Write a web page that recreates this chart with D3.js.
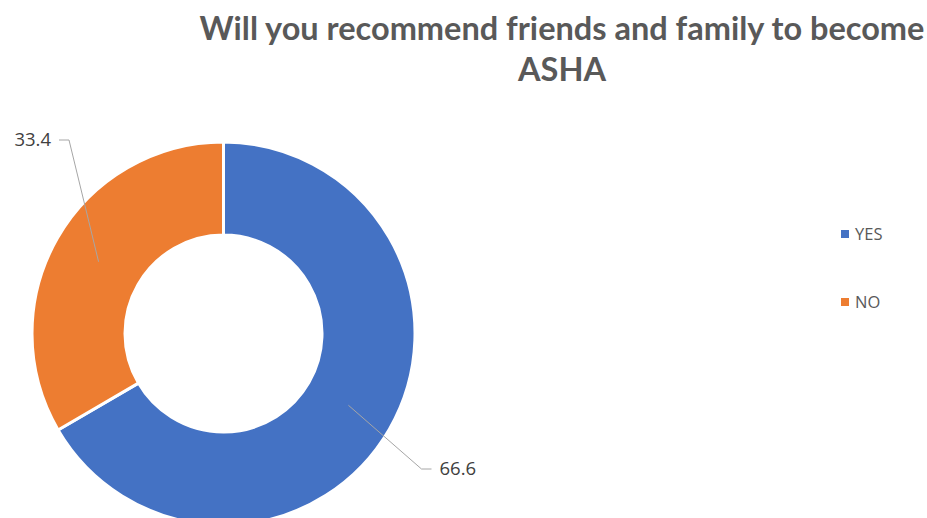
<!DOCTYPE html>
<html>
<head>
<meta charset="utf-8">
<script src="https://cdn.jsdelivr.net/npm/d3@7"></script>
<style>
  html, body { margin: 0; padding: 0; background: #fff; }
  svg { display: block; }
</style>
</head>
<body>
<svg id="chart" width="927" height="518"></svg>
<script>
// Survey answers
const categories = ["YES", "NO"];
const values = [66.6, 33.4];
const colors = ["#4472C4", "#ED7D31"];
const titleLines = ["Will you recommend friends and family to become", "ASHA"];

const svg = d3.select("#chart");

// Title
const title = svg.append("g")
  .attr("font-family", "Lato, 'Open Sans', sans-serif")
  .attr("font-weight", "bold")
  .attr("font-size", 32.5)
  .attr("fill", "#595959")
  .attr("text-anchor", "middle");
title.selectAll("text").data(titleLines).join("text")
  .attr("x", 562)
  .attr("y", (d, i) => 40 + i * 41)
  .text(d => d);

// Donut
const cx = 223.5, cy = 333.5, outerR = 191.5, innerR = 98.5;
const pie = d3.pie().sort(null).value(d => d.value);
const arcs = pie(categories.map((c, i) => ({ cat: c, value: values[i], color: colors[i] })));
const arc = d3.arc().innerRadius(innerR).outerRadius(outerR);

const g = svg.append("g").attr("transform", `translate(${cx},${cy})`);
g.selectAll("path").data(arcs).join("path")
  .attr("d", arc)
  .attr("fill", d => d.data.color)
  .attr("stroke", "#fff")
  .attr("stroke-width", 3);

// Data labels with leader lines
const labelFont = "'Open Sans', sans-serif";
const leaders = [
  { end: [198, 135.5], dir: 1 },     // YES
  { end: [-154.5, -193.5], dir: -1 } // NO
];
arcs.forEach((a, i) => {
  const mid = (a.startAngle + a.endAngle) / 2;
  const r = innerR + (outerR - innerR) * 0.49;
  const p0 = [Math.sin(mid) * r, -Math.cos(mid) * r];
  const { end, dir } = leaders[i];
  const pts = [p0, end, [end[0] + dir * 10, end[1]]];
  g.append("path")
    .attr("d", d3.line()(pts))
    .attr("fill", "none")
    .attr("stroke", "#A6A6A6")
    .attr("stroke-width", 1);
  g.append("text")
    .attr("x", end[0] + dir * 18)
    .attr("y", end[1])
    .attr("dy", "0.35em")
    .attr("text-anchor", dir > 0 ? "start" : "end")
    .attr("font-family", labelFont)
    .attr("font-size", 18.5)
    .attr("fill", "#404040")
    .text(values[i].toFixed(1));
});

// Legend
const legend = svg.append("g").attr("transform", "translate(841,0)");
const items = legend.selectAll("g").data(categories).join("g")
  .attr("transform", (d, i) => `translate(0,${234 + i * 68})`);
items.append("rect")
  .attr("x", 0).attr("y", -4)
  .attr("width", 8).attr("height", 8)
  .attr("fill", (d, i) => colors[i]);
items.append("text")
  .attr("x", 14).attr("y", 0).attr("dy", "0.35em")
  .attr("font-family", labelFont)
  .attr("font-size", 16.5)
  .attr("fill", "#595959")
  .text(d => d);
</script>
</body>
</html>
